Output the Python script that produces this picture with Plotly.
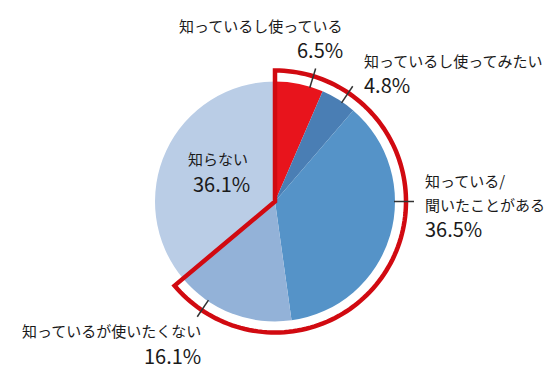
import numpy as np
import plotly.graph_objects as go

# ---- data ----
labels = ["知っているし使っている", "知っているし使ってみたい", "知っている/聞いたことがある",
          "知っているが使いたくない", "知らない"]
values = [6.5, 4.8, 36.5, 16.1, 36.1]
pct_text = ["6.5%", "4.8%", "36.5%", "16.1%", "36.1%"]
name_lines = [["知っているし使っている"], ["知っているし使ってみたい"], ["知っている/", "聞いたことがある"],
              ["知っているが使いたくない"], ["知らない"]]
highlight_count = 4  # slices enclosed by the red outline

# ---- styling ----
colors = ["#E8141C", "#4A7EB4", "#5593C8", "#93B2D8", "#BACDE6"]
W, H = 550, 374
cx, cy, R = 275, 201.5, 120
R_OUT = 131
FONT = "Noto Sans CJK JP"
leader_angles = [17, 34, 90, 214]
# label block anchors: (x, y of first line, xanchor)
label_pos = [(345, 25, "right"), (362, 60, "left"), (423, 180, "left"),
             (203, 330, "right"), (218, 158, "center")]
pct_pos = [(345, 49, "right"), (362, 84, "left"), (423, 228, "left"),
           (203, 355, "right"), (221, 183, "center")]

fig = go.Figure()
fig.add_trace(go.Pie(
    labels=labels, values=values, sort=False, direction="clockwise", rotation=0,
    marker=dict(colors=colors, line=dict(width=0)), textinfo="none", hoverinfo="none",
    showlegend=False,
    domain=dict(x=[(cx - R) / W, (cx + R) / W], y=[1 - (cy + R) / H, 1 - (cy - R) / H]),
))
# invisible trace to create the pixel-coordinate axes
fig.add_trace(go.Scatter(x=[0, W], y=[0, H], mode="markers", marker=dict(opacity=0),
                         hoverinfo="skip", showlegend=False))

total = sum(values)
end_frac = sum(values[:highlight_count]) / total
th = np.linspace(0, end_frac * 2 * np.pi, 120)
xs = cx + R_OUT * np.sin(th)
ys = cy - R_OUT * np.cos(th)
path = f"M {cx},{cy} " + " ".join(f"L {x:.2f},{y:.2f}" for x, y in zip(xs, ys)) + " Z"

shapes = [dict(type="path", path=path, xref="x", yref="y",
               line=dict(color="#D10A11", width=4.5), fillcolor="rgba(0,0,0,0)", layer="above")]
for a in leader_angles:
    t = np.deg2rad(a)
    shapes.append(dict(type="line", xref="x", yref="y",
                       x0=cx + 119 * np.sin(t), y0=cy - 119 * np.cos(t),
                       x1=cx + 139 * np.sin(t), y1=cy - 139 * np.cos(t),
                       line=dict(color="#333333", width=1.5)))

annotations = []
for lines, (x, y, xa), pt, (px, py, pxa) in zip(name_lines, label_pos, pct_text, pct_pos):
    for i, ln in enumerate(lines):
        annotations.append(dict(x=x, y=y + 24 * i, xref="x", yref="y", text=ln, showarrow=False,
                                xanchor=xa, yanchor="middle",
                                font=dict(family=FONT, size=15, color="#1a1a1a")))
    annotations.append(dict(x=px, y=py, xref="x", yref="y", text=pt, showarrow=False,
                            xanchor=pxa, yanchor="middle",
                            font=dict(family=FONT, size=20, color="#1a1a1a")))

fig.update_layout(
    width=W, height=H, margin=dict(l=0, r=0, t=0, b=0),
    paper_bgcolor="white", plot_bgcolor="white",
    xaxis=dict(range=[0, W], visible=False, fixedrange=True),
    yaxis=dict(range=[H, 0], visible=False, fixedrange=True),
    shapes=shapes, annotations=annotations,
)
fig.write_html("out.html")
